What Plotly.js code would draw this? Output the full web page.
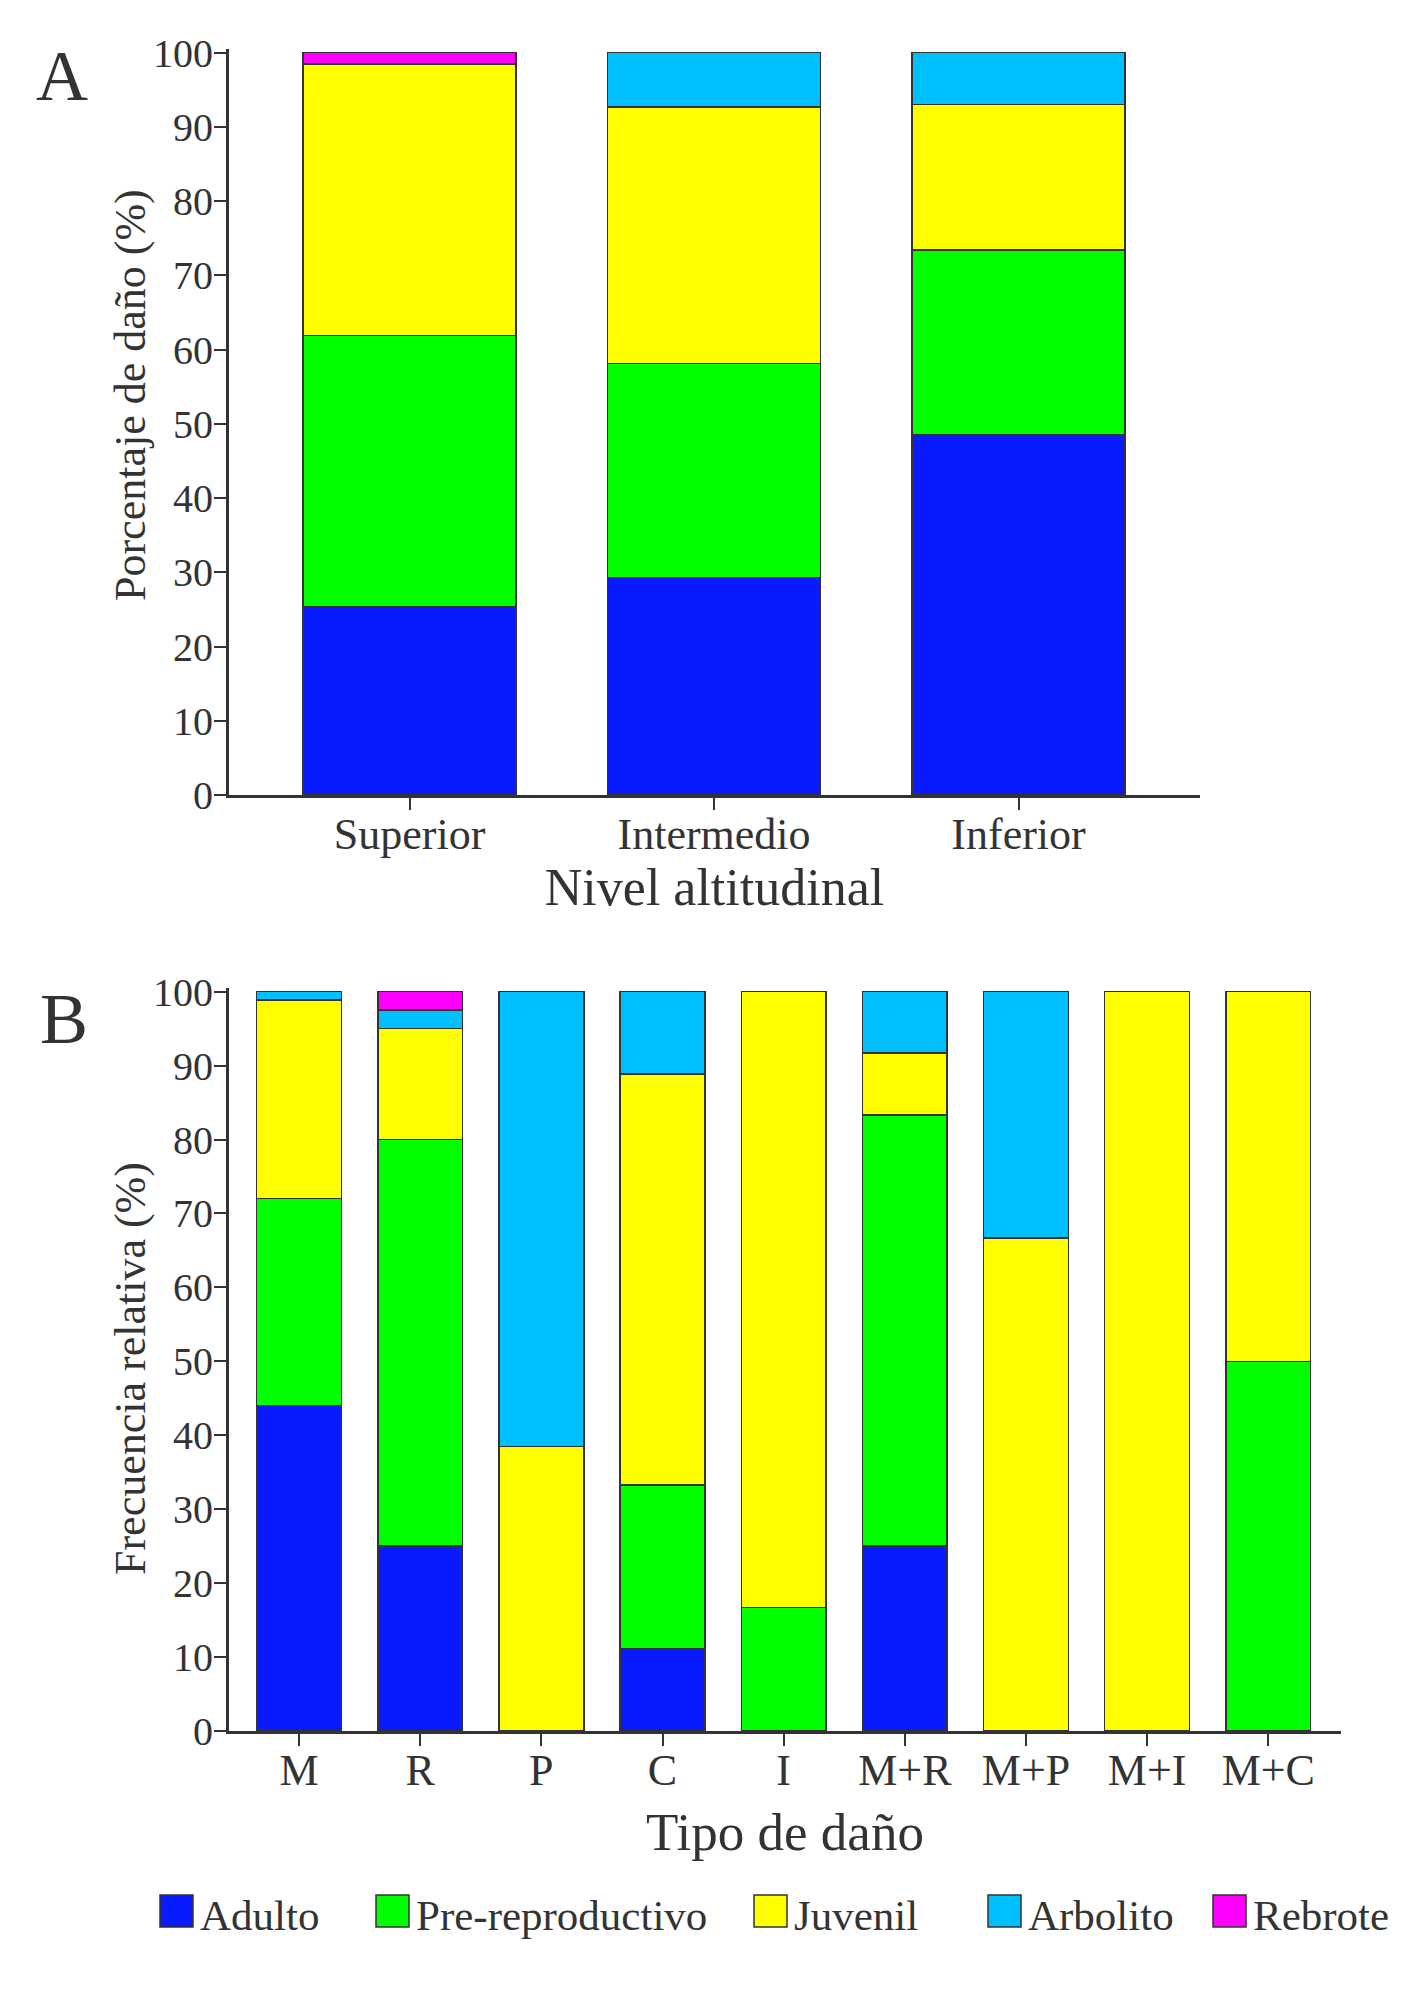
<!DOCTYPE html>
<html>
<head>
<meta charset="utf-8">
<script src="https://cdn.plot.ly/plotly-3.0.1.min.js"></script>
<style>
  body { margin: 0; background: #fff; }
  #grafico { width: 1417px; height: 2010px; }
</style>
</head>
<body>
<div id="grafico"></div>
<script>
//================================ Datos ================================

// Panel A - nivel altitudinal
var niveles = ["Superior", "Intermedio", "Inferior"];
var adultoA = [25.4, 29.3, 48.6];
var preA = [36.5, 28.8, 24.8];
var juvenilA = [36.6, 34.6, 19.6];
var arbolitoA = [0, 7.3, 7.0];
var rebroteA = [1.5, 0, 0];

// Panel B - tipo de daño
var tipos = ["M", "R", "P", "C", "I", "M+R", "M+P", "M+I", "M+C"];
var adultoB = [44.0, 25.0, 0, 11.1, 0, 25.0, 0, 0, 0];
var preB = [28.0, 55.0, 0, 22.2, 16.7, 58.3, 0, 0, 50.0];
var juvenilB = [26.9, 15.0, 38.5, 55.6, 83.3, 8.4, 66.7, 100, 50.0];
var arbolitoB = [1.1, 2.5, 61.5, 11.1, 0, 8.3, 33.3, 0, 0];
var rebroteB = [0, 2.5, 0, 0, 0, 0, 0, 0, 0];

var clases = ["Adulto", "Pre-reproductivo", "Juvenil", "Arbolito", "Rebrote"];
var colores = ["#0A1AFF", "#00FF00", "#FFFF00", "#00BFFF", "#FF00FF"];

//============================== Trazos =================================

var seriesA = [adultoA, preA, juvenilA, arbolitoA, rebroteA];
var seriesB = [adultoB, preB, juvenilB, arbolitoB, rebroteB];
var fuente = "Liberation Serif, Times New Roman, serif";
var gris = "#333333";

var data = [];
clases.forEach(function (nombre, i) {
  data.push({
    type: "bar", name: nombre, x: niveles, y: seriesA[i],
    xaxis: "x", yaxis: "y",
    marker: { color: colores[i], line: { color: gris, width: 1.5 } },
    showlegend: false, hoverinfo: "skip"
  });
  data.push({
    type: "bar", name: nombre, x: tipos, y: seriesB[i],
    xaxis: "x2", yaxis: "y2",
    marker: { color: colores[i], line: { color: gris, width: 1.5 } },
    showlegend: false, hoverinfo: "skip"
  });
});

//============================= Ejes ====================================

// pasa pixeles de la figura a coordenadas "paper"
function px(x) { return x / 1417; }
function py(y) { return (2010 - y) / 2010; }

function ejeX(dom, rango, titulo, standoff, tam) {
  return {
    domain: dom, range: rango, type: "category",
    showline: true, linecolor: gris, linewidth: 3,
    ticks: "outside", ticklen: 12, tickwidth: 2, tickcolor: gris,
    ticklabelstandoff: -14,
    tickfont: { family: fuente, size: 44, color: gris },
    showgrid: false, zeroline: false, fixedrange: true,
    title: { text: titulo, standoff: standoff, font: { family: fuente, size: tam, color: gris } }
  };
}

function ejeY(dom) {
  return {
    domain: dom, range: [0, 100.5], dtick: 10, tick0: 0,
    showline: true, linecolor: gris, linewidth: 3,
    ticks: "outside", ticklen: 12, tickwidth: 2, tickcolor: gris,
    ticklabelstandoff: -7,
    tickfont: { family: fuente, size: 40, color: gris },
    showgrid: false, zeroline: false, fixedrange: true
  };
}

//=========================== Leyenda propia ============================

var shapes = [];
var notas = [];
var legX = [160, 376, 754, 988, 1213];
clases.forEach(function (nombre, i) {
  shapes.push({
    type: "rect", xref: "paper", yref: "paper",
    x0: px(legX[i]), x1: px(legX[i] + 33), y0: py(1927), y1: py(1895),
    fillcolor: colores[i], line: { color: gris, width: 1.5 }
  });
  notas.push({
    xref: "paper", yref: "paper", x: px(legX[i] + 38), y: py(1915),
    xanchor: "left", yanchor: "middle", showarrow: false,
    text: nombre, font: { family: fuente, size: 43, color: gris }
  });
});

// letras de panel y titulos de eje y
function nota(x, y, texto, tam, angulo) {
  notas.push({ xref: "paper", yref: "paper", x: px(x), y: py(y),
    xanchor: "center", yanchor: "middle", showarrow: false, textangle: angulo,
    text: texto, font: { family: fuente, size: tam, color: gris } });
}
nota(62, 76, "A", 72, 0);
nota(64, 1019, "B", 72, 0);
nota(130, 395, "Porcentaje de daño (%)", 44, -90);
nota(130, 1369, "Frecuencia relativa (%)", 44, -90);

var layout = {
  width: 1417, height: 2010,
  margin: { l: 0, r: 0, t: 0, b: 0 },
  paper_bgcolor: "#ffffff", plot_bgcolor: "#ffffff",
  barmode: "stack", bargap: 0.3,
  font: { family: fuente, color: gris },
  xaxis: ejeX([px(229), px(1200)], [-0.593, 2.596], "Nivel altitudinal", 10, 52),
  yaxis: ejeY([py(795), py(49)]),
  xaxis2: ejeX([px(229), px(1341)], [-0.578, 8.6], "Tipo de daño", 20, 53),
  yaxis2: ejeY([py(1731), py(988)]),
  shapes: shapes,
  annotations: notas
};
layout.yaxis.anchor = "x";
layout.xaxis.anchor = "y";
layout.yaxis2.anchor = "x2";
layout.xaxis2.anchor = "y2";

Plotly.newPlot("grafico", data, layout, { staticPlot: true });
</script>
</body>
</html>
